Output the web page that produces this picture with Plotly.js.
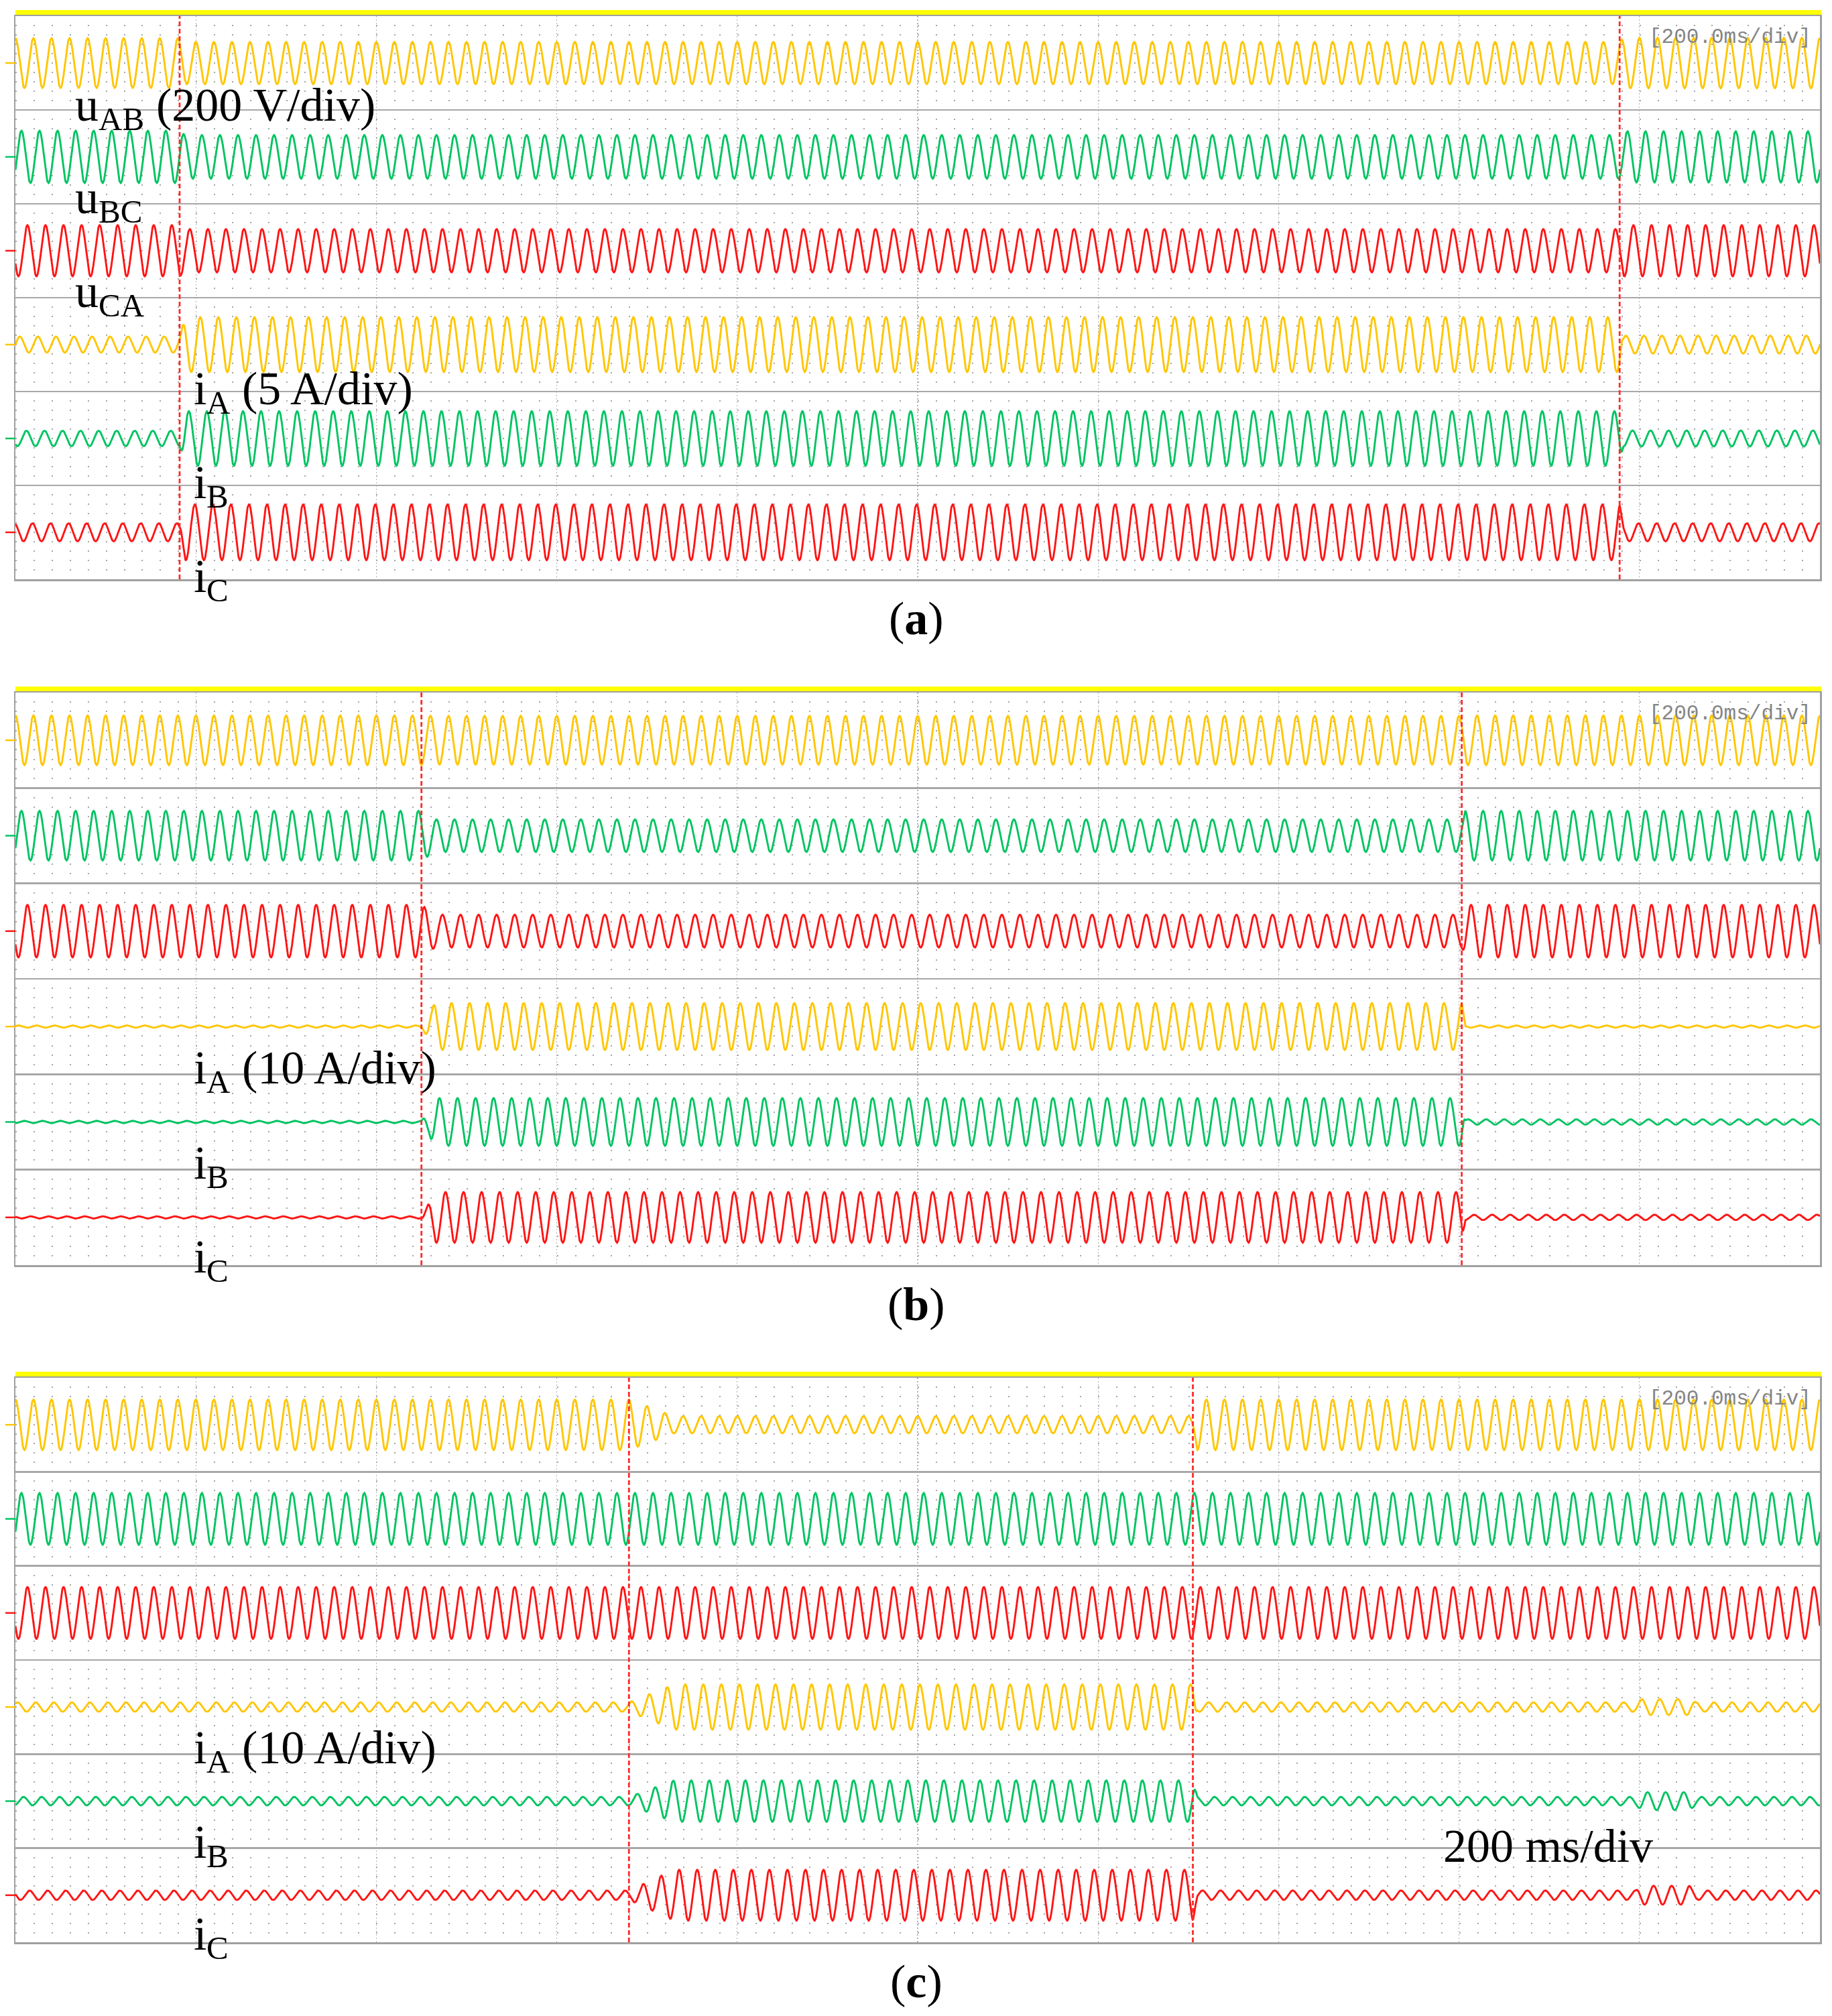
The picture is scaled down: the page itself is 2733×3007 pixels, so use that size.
<!DOCTYPE html>
<html><head><meta charset="utf-8">
<script src="https://cdn.plot.ly/plotly-3.0.1.min.js"></script>
<style>html,body{margin:0;padding:0;background:#fff}#chart{width:2733px;height:3007px}</style>
</head><body><div id="chart"></div>
<script>
// ---------------- data ----------------
const T_END = 2000;          // ms : 10 div x 200 ms/div
const F_HZ = 50;             // grid frequency
const DT = 0.4;              // ms sampling step
const channelNames  = ['uAB', 'uBC', 'uCA', 'iA', 'iB', 'iC'];
const channelColors = ['#ffc600', '#00c462', '#ff1414', '#ffc600', '#00c462', '#ff1414'];
// amplitudes in minor divisions (1 lane = 10 minor divisions), one value per segment

// panel (a)
const a_events = [182, 1778];          // ms, switching instants
const a_ramps  = [6, 4];               // ms, transition length
const a_uAB = [2.65, 2.25, 2.68];
const a_uBC = [2.78, 2.32, 2.72];
const a_uCA = [2.72, 2.30, 2.72];
const a_iA  = [0.85, 2.92, 0.95];
const a_iB  = [0.82, 2.90, 0.85];
const a_iC  = [0.95, 2.97, 0.95];
const a_phase = [0, 120, 240, 88, 220, 340];   // degrees (lag)

// panel (b)
const b_events = [450, 1603];
const b_ramps  = [15, 4];
const b_uAB = [2.60, 2.55, 2.60];
const b_uBC = [2.60, 1.70, 2.60];
const b_uCA = [2.75, 1.72, 2.75];
const b_iA  = [0.12, 2.45, 0.12];
const b_iB  = [0.12, 2.50, 0.28];
const b_iC  = [0.12, 2.65, 0.28];
const b_phase = [0, 120, 240, 60, 180, 300];

// panel (c)
const c_events = [680, 1305, 1795, 1855];
const c_ramps  = [50, 5, 8, 8];
const c_uAB = [2.68, 0.90, 2.68, 2.68, 2.68];
const c_uBC = [2.75, 2.75, 2.75, 2.75, 2.75];
const c_uCA = [2.75, 2.75, 2.75, 2.75, 2.75];
const c_iA  = [0.50, 2.40, 0.50, 0.85, 0.50];
const c_iB  = [0.45, 2.20, 0.45, 0.95, 0.45];
const c_iC  = [0.50, 2.70, 0.50, 1.00, 0.50];
const c_phase = [0, 120, 240, 43, 162, 282];

const panelMarks = [a_events, b_events, c_events.slice(0, 2)];   // red dashed cursors
const panelLetters = ['a', 'b', 'c'];
const scopeLabel = '[200.0ms/div]';

// channel labels: [symbol, subscript, rest, x px, baseline px]
const labelParts = [
  ['u', 'AB', '(200 V/div)', 112, 180],
  ['u', 'BC', '', 112, 318],
  ['u', 'CA', '', 112, 458],
  ['i', 'A', '(5 A/div)', 289, 603],
  ['i', 'B', '', 289, 743],
  ['i', 'C', '', 289, 883],
  ['i', 'A', '(10 A/div)', 289, 1616],
  ['i', 'B', '', 289, 1758],
  ['i', 'C', '', 289, 1898],
  ['i', 'A', '(10 A/div)', 289, 2630],
  ['i', 'B', '', 289, 2771],
  ['i', 'C', '', 289, 2908]
];
const timeBaseText = '200 ms/div';

// ---------------- build ----------------
const W = 2733, H = 3007;
const X0 = 23, X1 = 2715;
const tops = [24, 1033, 2055], bots = [864, 1887, 2897];
const SERIF = 'Liberation Serif, Times New Roman, serif';
const FS = 70, FS_SUB = 49;

const panels = [
  {events: a_events, ramps: a_ramps, amps: [a_uAB, a_uBC, a_uCA, a_iA, a_iB, a_iC], phase: a_phase},
  {events: b_events, ramps: b_ramps, amps: [b_uAB, b_uBC, b_uCA, b_iA, b_iB, b_iC], phase: b_phase},
  {events: c_events, ramps: c_ramps, amps: [c_uAB, c_uBC, c_uCA, c_iA, c_iB, c_iC], phase: c_phase}
];

function laneCenter(ch) { return 55 - 10 * ch; }

function series(events, ramps, amps, phaseDeg, center) {
  const x = [], y = [];
  const n = Math.round(T_END / DT);
  for (let k = 0; k <= n; k++) {
    const t = k * DT;
    let seg = 0;
    while (seg < events.length && t >= events[seg]) seg++;
    let A = amps[seg];
    if (seg > 0) {
      const frac = Math.min(1, (t - events[seg - 1]) / ramps[seg - 1]);
      A = amps[seg - 1] + (amps[seg] - amps[seg - 1]) * frac;
    }
    x.push(t);
    y.push(center + A * Math.cos(2 * Math.PI * F_HZ * t / 1000 - phaseDeg * Math.PI / 180));
  }
  return {x, y};
}

const traces = [];
const shapes = [];
const annotations = [];
const layout = {
  width: W, height: H,
  margin: {l: 0, r: 0, t: 0, b: 0},
  paper_bgcolor: '#ffffff', plot_bgcolor: '#ffffff',
  showlegend: false,
  shapes, annotations
};

const periodPx = (X1 - X0) / (T_END / (1000 / F_HZ));
const dotDash = '2px,' + (periodPx - 2).toFixed(3) + 'px';

panels.forEach((p, i) => {
  const s = i === 0 ? '' : String(i + 1);
  layout['xaxis' + s] = {
    domain: [X0 / W, X1 / W], range: [0, T_END], anchor: 'y' + s,
    showticklabels: false, ticks: '', zeroline: false,
    showgrid: true, tick0: 0, dtick: 200, gridcolor: '#b4b4b4', gridwidth: 1.2, griddash: '2px,3px',
    showline: true, mirror: true, linecolor: '#a0a0a0', linewidth: 2.5, fixedrange: true
  };
  layout['yaxis' + s] = {
    domain: [1 - bots[i] / H, 1 - tops[i] / H], range: [0, 60], anchor: 'x' + s,
    showticklabels: false, ticks: '', zeroline: false,
    showgrid: true, tick0: 0, dtick: 10, gridcolor: '#a8a8a8', gridwidth: 2.5,
    minor: {tick0: 0, dtick: 1, showgrid: true, gridcolor: '#a6a6a6', gridwidth: 2, griddash: dotDash},
    showline: true, mirror: true, linecolor: '#a0a0a0', linewidth: 2.5, fixedrange: true
  };

  channelNames.forEach((name, ch) => {
    const d = series(p.events, p.ramps, p.amps[ch], p.phase[ch], laneCenter(ch));
    traces.push({
      type: 'scatter', mode: 'lines', name: name + ' (' + panelLetters[i] + ')',
      x: d.x, y: d.y, xaxis: 'x' + s, yaxis: 'y' + s,
      line: {color: channelColors[ch], width: 2.9}, hoverinfo: 'skip'
    });
    shapes.push({type: 'line', xref: 'paper', yref: 'y' + s,
      x0: 8 / W, x1: X0 / W, y0: laneCenter(ch), y1: laneCenter(ch),
      line: {color: channelColors[ch], width: 2.5}});
  });

  panelMarks[i].forEach(t => {
    shapes.push({type: 'line', xref: 'x' + s, yref: 'y' + s + ' domain',
      x0: t, x1: t, y0: 0, y1: 1, layer: 'above',
      line: {color: '#ff2a2a', width: 2.8, dash: '7px,4px'}});
  });

  shapes.push({type: 'line', xref: 'paper', yref: 'paper',
    x0: X0 / W, x1: (X1 + 2) / W, y0: 1 - (tops[i] - 5.5) / H, y1: 1 - (tops[i] - 5.5) / H,
    line: {color: '#ffff00', width: 7}});

  annotations.push({xref: 'paper', yref: 'paper', x: 2704 / W, y: 1 - (tops[i] + 31) / H,
    xanchor: 'right', yanchor: 'middle', showarrow: false, text: scopeLabel,
    font: {family: 'Liberation Mono, DejaVu Sans Mono, monospace', size: 31, color: '#858585'}});

  annotations.push({xref: 'paper', yref: 'paper', x: 1367 / W, y: 1 - (bots[i] + 58) / H,
    xanchor: 'center', yanchor: 'middle', showarrow: false,
    text: '(<b>' + panelLetters[i] + '</b>)',
    font: {family: SERIF, size: 70, color: '#000000'}});
});

// text width measurement (same font as drawn)
const ctx = document.createElement('canvas').getContext('2d');
function textW(txt, size) { ctx.font = size + 'px "Liberation Serif"'; return ctx.measureText(txt).width; }
const K_CENTER = 0.3375;   // baseline -> box centre, in em
function addText(txt, xPx, basePx, size) {
  annotations.push({xref: 'paper', yref: 'paper', x: xPx / W, y: 1 - (basePx - K_CENTER * size) / H,
    xanchor: 'left', yanchor: 'middle', showarrow: false, text: txt,
    borderpad: 0, borderwidth: 0,
    font: {family: SERIF, size: size, color: '#000000'}});
}
labelParts.forEach(([sym, sub, rest, x, base]) => {
  addText(sym, x, base, FS);
  const xs = x + textW(sym, FS);
  addText(sub, xs, base + 14, FS_SUB);
  if (rest) addText(rest, xs + textW(sub, FS_SUB) + textW(' ', FS), base, FS);
});
addText(timeBaseText, 2153, 2777, FS);

Plotly.newPlot('chart', traces, layout, {staticPlot: true, displayModeBar: false});
</script></body></html>
